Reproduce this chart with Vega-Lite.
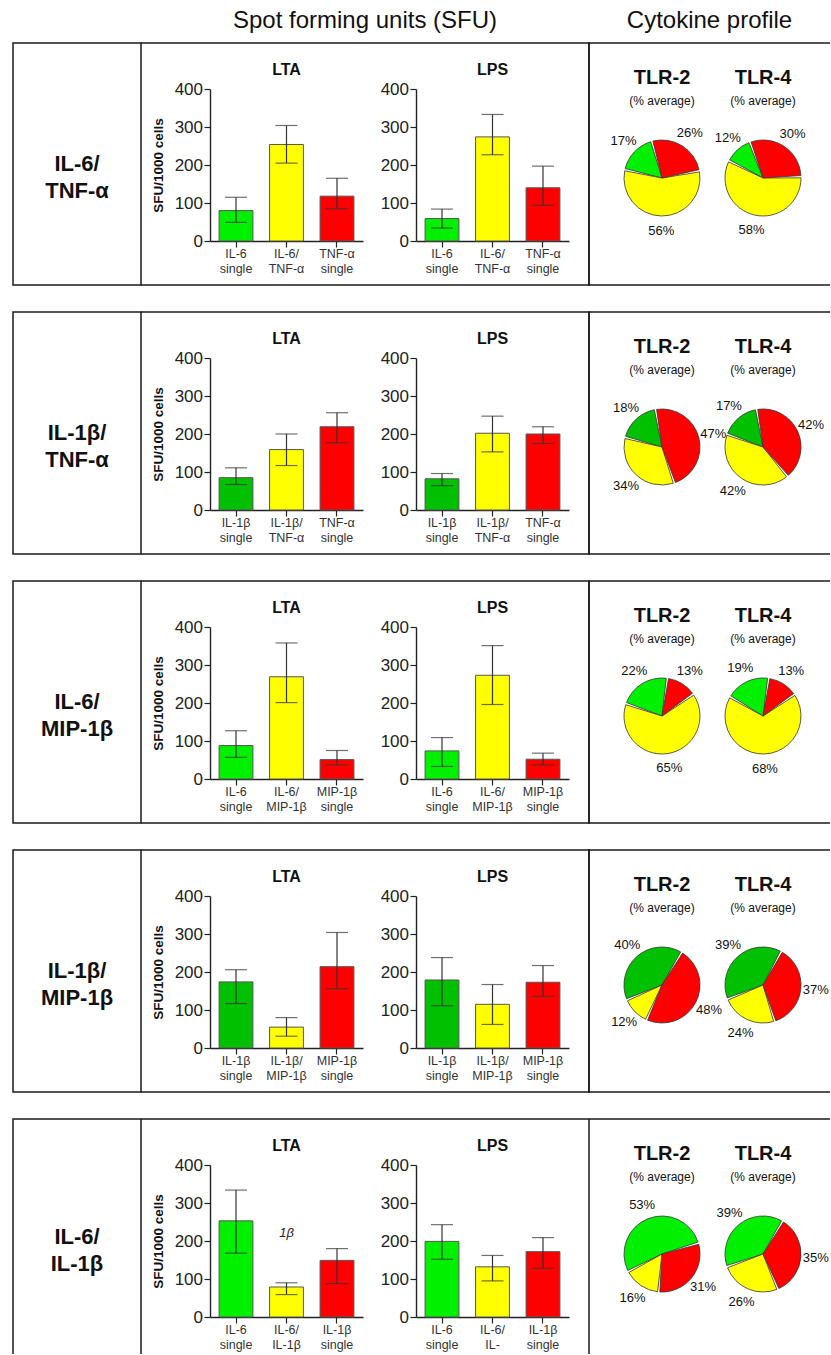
{
  "$schema": "https://vega.github.io/schema/vega-lite/v6.json",
  "background": "white",
  "padding": {"left": 12, "top": 0, "right": 0, "bottom": 0},
  "config": {
    "view": {"stroke": null},
    "font": "Liberation Sans",
    "axis": {"grid": false, "domainColor": "#222", "domainWidth": 1.4, "tickColor": "#222", "tickWidth": 1.2, "tickSize": 6, "labelColor": "#222", "labelFont": "Liberation Sans", "titleFont": "Liberation Sans", "titleColor": "#111"},
    "title": {"font": "Liberation Sans", "color": "#111"}
  },
  "datasets": {
    "rows": [
      {"row": 1, "pair": "IL-6/\nTNF-α"},
      {"row": 2, "pair": "IL-1β/\nTNF-α"},
      {"row": 3, "pair": "IL-6/\nMIP-1β"},
      {"row": 4, "pair": "IL-1β/\nMIP-1β"},
      {"row": 5, "pair": "IL-6/\nIL-1β"}
    ],
    "bars": [
      {"row": 1, "stim": "LTA", "label": "IL-6 single", "series": "single A (IL-6)", "mean": 80, "lo": 49, "hi": 115},
      {"row": 1, "stim": "LTA", "label": "IL-6/ TNF-α", "series": "double", "mean": 254, "lo": 205, "hi": 304},
      {"row": 1, "stim": "LTA", "label": "TNF-α single", "series": "single B", "mean": 118, "lo": 85, "hi": 165},
      {"row": 1, "stim": "LPS", "label": "IL-6 single", "series": "single A (IL-6)", "mean": 59, "lo": 34, "hi": 84},
      {"row": 1, "stim": "LPS", "label": "IL-6/ TNF-α", "series": "double", "mean": 274, "lo": 227, "hi": 333},
      {"row": 1, "stim": "LPS", "label": "TNF-α single", "series": "single B", "mean": 140, "lo": 94, "hi": 197},
      {"row": 2, "stim": "LTA", "label": "IL-1β single", "series": "single A (IL-1β)", "mean": 85, "lo": 67, "hi": 111},
      {"row": 2, "stim": "LTA", "label": "IL-1β/ TNF-α", "series": "double", "mean": 159, "lo": 117, "hi": 200},
      {"row": 2, "stim": "LTA", "label": "TNF-α single", "series": "single B", "mean": 219, "lo": 177, "hi": 256},
      {"row": 2, "stim": "LPS", "label": "IL-1β single", "series": "single A (IL-1β)", "mean": 82, "lo": 64, "hi": 96},
      {"row": 2, "stim": "LPS", "label": "IL-1β/ TNF-α", "series": "double", "mean": 202, "lo": 153, "hi": 247},
      {"row": 2, "stim": "LPS", "label": "TNF-α single", "series": "single B", "mean": 200, "lo": 175, "hi": 219},
      {"row": 3, "stim": "LTA", "label": "IL-6 single", "series": "single A (IL-6)", "mean": 88, "lo": 57, "hi": 127},
      {"row": 3, "stim": "LTA", "label": "IL-6/ MIP-1β", "series": "double", "mean": 269, "lo": 201, "hi": 358},
      {"row": 3, "stim": "LTA", "label": "MIP-1β single", "series": "single B", "mean": 51, "lo": 37, "hi": 75},
      {"row": 3, "stim": "LPS", "label": "IL-6 single", "series": "single A (IL-6)", "mean": 74, "lo": 33, "hi": 109},
      {"row": 3, "stim": "LPS", "label": "IL-6/ MIP-1β", "series": "double", "mean": 273, "lo": 196, "hi": 351},
      {"row": 3, "stim": "LPS", "label": "MIP-1β single", "series": "single B", "mean": 52, "lo": 37, "hi": 68},
      {"row": 4, "stim": "LTA", "label": "IL-1β single", "series": "single A (IL-1β)", "mean": 174, "lo": 117, "hi": 206},
      {"row": 4, "stim": "LTA", "label": "IL-1β/ MIP-1β", "series": "double", "mean": 55, "lo": 31, "hi": 80},
      {"row": 4, "stim": "LTA", "label": "MIP-1β single", "series": "single B", "mean": 214, "lo": 156, "hi": 304},
      {"row": 4, "stim": "LPS", "label": "IL-1β single", "series": "single A (IL-1β)", "mean": 179, "lo": 111, "hi": 238},
      {"row": 4, "stim": "LPS", "label": "IL-1β/ MIP-1β", "series": "double", "mean": 115, "lo": 62, "hi": 167},
      {"row": 4, "stim": "LPS", "label": "MIP-1β single", "series": "single B", "mean": 173, "lo": 136, "hi": 217},
      {"row": 5, "stim": "LTA", "label": "IL-6 single", "series": "single A (IL-6)", "mean": 253, "lo": 168, "hi": 334},
      {"row": 5, "stim": "LTA", "label": "IL-6/ IL-1β", "series": "double", "mean": 79, "lo": 59, "hi": 90},
      {"row": 5, "stim": "LTA", "label": "IL-1β single", "series": "single B", "mean": 149, "lo": 88, "hi": 180},
      {"row": 5, "stim": "LPS", "label": "IL-6 single", "series": "single A (IL-6)", "mean": 199, "lo": 152, "hi": 243},
      {"row": 5, "stim": "LPS", "label": "IL-6/ IL-", "series": "double", "mean": 132, "lo": 95, "hi": 162},
      {"row": 5, "stim": "LPS", "label": "IL-1β single", "series": "single B", "mean": 172, "lo": 128, "hi": 209}
    ],
    "pies": [
      {"row": 1, "tlr": "TLR-2", "series": "single A (IL-6)", "share": 0.17},
      {"row": 1, "tlr": "TLR-2", "series": "double", "share": 0.56},
      {"row": 1, "tlr": "TLR-2", "series": "single B", "share": 0.26},
      {"row": 1, "tlr": "TLR-4", "series": "single A (IL-6)", "share": 0.12},
      {"row": 1, "tlr": "TLR-4", "series": "double", "share": 0.58},
      {"row": 1, "tlr": "TLR-4", "series": "single B", "share": 0.30},
      {"row": 2, "tlr": "TLR-2", "series": "single A (IL-1β)", "share": 0.18},
      {"row": 2, "tlr": "TLR-2", "series": "double", "share": 0.34},
      {"row": 2, "tlr": "TLR-2", "series": "single B", "share": 0.47},
      {"row": 2, "tlr": "TLR-4", "series": "single A (IL-1β)", "share": 0.17},
      {"row": 2, "tlr": "TLR-4", "series": "double", "share": 0.42},
      {"row": 2, "tlr": "TLR-4", "series": "single B", "share": 0.42},
      {"row": 3, "tlr": "TLR-2", "series": "single A (IL-6)", "share": 0.22},
      {"row": 3, "tlr": "TLR-2", "series": "double", "share": 0.65},
      {"row": 3, "tlr": "TLR-2", "series": "single B", "share": 0.13},
      {"row": 3, "tlr": "TLR-4", "series": "single A (IL-6)", "share": 0.19},
      {"row": 3, "tlr": "TLR-4", "series": "double", "share": 0.68},
      {"row": 3, "tlr": "TLR-4", "series": "single B", "share": 0.13},
      {"row": 4, "tlr": "TLR-2", "series": "single A (IL-1β)", "share": 0.40},
      {"row": 4, "tlr": "TLR-2", "series": "double", "share": 0.12},
      {"row": 4, "tlr": "TLR-2", "series": "single B", "share": 0.48},
      {"row": 4, "tlr": "TLR-4", "series": "single A (IL-1β)", "share": 0.39},
      {"row": 4, "tlr": "TLR-4", "series": "double", "share": 0.24},
      {"row": 4, "tlr": "TLR-4", "series": "single B", "share": 0.37},
      {"row": 5, "tlr": "TLR-2", "series": "single A (IL-6)", "share": 0.53},
      {"row": 5, "tlr": "TLR-2", "series": "double", "share": 0.16},
      {"row": 5, "tlr": "TLR-2", "series": "single B", "share": 0.31},
      {"row": 5, "tlr": "TLR-4", "series": "single A (IL-6)", "share": 0.39},
      {"row": 5, "tlr": "TLR-4", "series": "double", "share": 0.26},
      {"row": 5, "tlr": "TLR-4", "series": "single B", "share": 0.35}
    ]
  },
  "spacing": 0,
  "resolve": {"scale": {"theta": "independent"}},
  "vconcat": [
    {
      "spacing": 0,
      "bounds": "flush",
      "hconcat": [
        {"width": 128, "height": 42, "data": {"values": []}, "mark": "text"},
        {"width": 448, "height": 42, "data": {"values": [{"h": "Spot forming units (SFU)"}]}, "mark": {"type": "text", "fontSize": 24, "color": "#111"}, "encoding": {"text": {"field": "h", "type": "nominal"}}},
        {"width": 241, "height": 42, "data": {"values": [{"h": "Cytokine profile"}]}, "mark": {"type": "text", "fontSize": 24, "color": "#111"}, "encoding": {"text": {"field": "h", "type": "nominal"}}}
      ]
    },
    {
      "spacing": 25,
      "resolve": {"scale": {"theta": "independent"}},
      "vconcat": [
        {
          "spacing": 0, "bounds": "flush", "resolve": {"scale": {"theta": "independent"}},
          "hconcat": [
            {"width": 128, "height": 242, "view": {"stroke": "#1a1a1a", "strokeWidth": 1.5}, "data": {"name": "rows"}, "transform": [{"filter": "datum.row === 1"}], "mark": {"type": "text", "fontSize": 22, "fontWeight": "bold", "lineBreak": "\n", "lineHeight": 27, "color": "#111"}, "encoding": {"text": {"field": "pair", "type": "nominal"}}},
            {
              "width": 206, "height": 242, "view": {"stroke": "#1a1a1a", "strokeWidth": 1.5, "strokeDash": [206, 242]},
              "title": {"text": "LTA", "frame": "group", "anchor": "middle", "dx": 42.5, "offset": -35, "fontSize": 16, "fontWeight": "bold"},
              "data": {"name": "bars"}, "transform": [{"filter": "datum.row === 1 && datum.stim === 'LTA'"}],
              "encoding": {"x": {"field": "label", "type": "nominal", "sort": null, "title": null, "scale": {"range": [69, 222], "paddingInner": 0.33, "paddingOuter": 0.18}, "axis": {"offset": -44, "labelExpr": "split(datum.label, ' ')", "labelAngle": 0, "labelFontSize": 12.5, "labelLineHeight": 14.5, "labelPadding": 0.5, "labelOverlap": false, "labelColor": "#333"}}},
              "layer": [
                {"mark": {"type": "bar", "stroke": "#555", "strokeWidth": 1}, "encoding": {"y": {"field": "mean", "type": "quantitative", "title": "SFU/1000 cells", "scale": {"domain": [0, 400], "range": [198, 46], "nice": false}, "axis": {"offset": -69, "values": [0, 100, 200, 300, 400], "labelFontSize": 17, "labelPadding": 1.5, "titleFontSize": 13.5, "titleFontWeight": "bold", "titlePadding": 9}}, "color": {"field": "series", "type": "nominal", "legend": null, "scale": {"domain": ["single A (IL-6)", "single A (IL-1β)", "double", "single B"], "range": ["#00F000", "#00C000", "#FFFF00", "#FF0000"]}}}},
                {"mark": {"type": "rule", "color": "#333", "strokeWidth": 1.2}, "encoding": {"y": {"field": "lo", "type": "quantitative", "title": "SFU/1000 cells"}, "y2": {"field": "hi"}}},
                {"mark": {"type": "tick", "color": "#333", "size": 22, "thickness": 1.2}, "encoding": {"y": {"field": "lo", "type": "quantitative", "title": "SFU/1000 cells"}}},
                {"mark": {"type": "tick", "color": "#333", "size": 22, "thickness": 1.2}, "encoding": {"y": {"field": "hi", "type": "quantitative", "title": "SFU/1000 cells"}}}
              ]
            },
            {
              "width": 242, "height": 242, "view": {"stroke": "#1a1a1a", "strokeWidth": 1.5, "strokeDash": [726, 242]},
              "title": {"text": "LPS", "frame": "group", "anchor": "middle", "dx": 24.5, "offset": -35, "fontSize": 16, "fontWeight": "bold"},
              "data": {"name": "bars"}, "transform": [{"filter": "datum.row === 1 && datum.stim === 'LPS'"}],
              "encoding": {"x": {"field": "label", "type": "nominal", "sort": null, "title": null, "scale": {"range": [69, 222], "paddingInner": 0.33, "paddingOuter": 0.18}, "axis": {"offset": -44, "labelExpr": "split(datum.label, ' ')", "labelAngle": 0, "labelFontSize": 12.5, "labelLineHeight": 14.5, "labelPadding": 0.5, "labelOverlap": false, "labelColor": "#333"}}},
              "layer": [
                {"mark": {"type": "bar", "stroke": "#555", "strokeWidth": 1}, "encoding": {"y": {"field": "mean", "type": "quantitative", "title": null, "scale": {"domain": [0, 400], "range": [198, 46], "nice": false}, "axis": {"offset": -69, "values": [0, 100, 200, 300, 400], "labelFontSize": 17, "labelPadding": 1.5}}, "color": {"field": "series", "type": "nominal", "legend": null}}},
                {"mark": {"type": "rule", "color": "#333", "strokeWidth": 1.2}, "encoding": {"y": {"field": "lo", "type": "quantitative", "title": null}, "y2": {"field": "hi"}}},
                {"mark": {"type": "tick", "color": "#333", "size": 22, "thickness": 1.2}, "encoding": {"y": {"field": "lo", "type": "quantitative", "title": null}}},
                {"mark": {"type": "tick", "color": "#333", "size": 22, "thickness": 1.2}, "encoding": {"y": {"field": "hi", "type": "quantitative", "title": null}}}
              ]
            },
            {
              "width": 241, "height": 242, "view": {"stroke": "#1a1a1a", "strokeWidth": 1.5, "strokeDash": [241, 242, 483]},
              "resolve": {"scale": {"theta": "independent"}},
              "layer": [
                {
                  "data": {"name": "pies"}, "transform": [{"filter": "datum.row === 1 && datum.tlr === 'TLR-2'"}],
                  "encoding": {
                    "x": {"field": "tlr", "type": "nominal", "axis": null, "scale": {"type": "point", "domain": ["TLR-2", "TLR-4"], "range": [73, 174], "padding": 0}},
                    "y": {"datum": "pie", "type": "nominal", "axis": null, "scale": {"type": "point", "domain": ["title", "pie"], "range": [35, 135], "padding": 0}},
                    "theta": {"field": "share", "type": "quantitative", "stack": true, "scale": {"range": [1.379, 7.662], "nice": false, "zero": true}},
                    "order": {"field": "series", "sort": "ascending"}
                  },
                  "layer": [
                    {"mark": {"type": "arc", "outerRadius": 38, "padAngle": 0.06, "stroke": "#333", "strokeWidth": 0.8}, "encoding": {"color": {"field": "series", "type": "nominal", "legend": null}}},
                    {"mark": {"type": "text", "radius": 53, "fontSize": 13, "color": "#111"}, "encoding": {"text": {"field": "share", "type": "quantitative", "format": ".0%"}, "detail": {"field": "series"}}}
                  ]
                },
                {
                  "data": {"name": "pies"}, "transform": [{"filter": "datum.row === 1 && datum.tlr === 'TLR-4'"}],
                  "encoding": {
                    "x": {"field": "tlr", "type": "nominal", "axis": null},
                    "y": {"datum": "pie", "type": "nominal", "axis": null},
                    "theta": {"field": "share", "type": "quantitative", "stack": true, "scale": {"range": [1.536, 7.819], "nice": false, "zero": true}},
                    "order": {"field": "series", "sort": "ascending"}
                  },
                  "layer": [
                    {"mark": {"type": "arc", "outerRadius": 38, "padAngle": 0.06, "stroke": "#333", "strokeWidth": 0.8}, "encoding": {"color": {"field": "series", "type": "nominal", "legend": null}}},
                    {"mark": {"type": "text", "radius": 53, "fontSize": 13, "color": "#111"}, "encoding": {"text": {"field": "share", "type": "quantitative", "format": ".0%"}, "detail": {"field": "series"}}}
                  ]
                },
                {
                  "data": {"name": "pies"}, "transform": [{"filter": "datum.row === 1 && datum.series === 'double'"}],
                  "encoding": {"x": {"field": "tlr", "type": "nominal", "axis": null}, "y": {"datum": "title", "type": "nominal", "axis": null}},
                  "layer": [
                    {"mark": {"type": "text", "fontSize": 20, "fontWeight": "bold", "color": "#111"}, "encoding": {"text": {"field": "tlr", "type": "nominal"}}},
                    {"mark": {"type": "text", "fontSize": 12, "dy": 23, "color": "#111", "text": "(% average)"}}
                  ]
                }
              ]
            }
          ]
        },
        {
          "spacing": 0, "bounds": "flush", "resolve": {"scale": {"theta": "independent"}},
          "hconcat": [
            {"width": 128, "height": 242, "view": {"stroke": "#1a1a1a", "strokeWidth": 1.5}, "data": {"name": "rows"}, "transform": [{"filter": "datum.row === 2"}], "mark": {"type": "text", "fontSize": 22, "fontWeight": "bold", "lineBreak": "\n", "lineHeight": 27, "color": "#111"}, "encoding": {"text": {"field": "pair", "type": "nominal"}}},
            {
              "width": 206, "height": 242, "view": {"stroke": "#1a1a1a", "strokeWidth": 1.5, "strokeDash": [206, 242]},
              "title": {"text": "LTA", "frame": "group", "anchor": "middle", "dx": 42.5, "offset": -35, "fontSize": 16, "fontWeight": "bold"},
              "data": {"name": "bars"}, "transform": [{"filter": "datum.row === 2 && datum.stim === 'LTA'"}],
              "encoding": {"x": {"field": "label", "type": "nominal", "sort": null, "title": null, "scale": {"range": [69, 222], "paddingInner": 0.33, "paddingOuter": 0.18}, "axis": {"offset": -44, "labelExpr": "split(datum.label, ' ')", "labelAngle": 0, "labelFontSize": 12.5, "labelLineHeight": 14.5, "labelPadding": 0.5, "labelOverlap": false, "labelColor": "#333"}}},
              "layer": [
                {"mark": {"type": "bar", "stroke": "#555", "strokeWidth": 1}, "encoding": {"y": {"field": "mean", "type": "quantitative", "title": "SFU/1000 cells", "scale": {"domain": [0, 400], "range": [198, 46], "nice": false}, "axis": {"offset": -69, "values": [0, 100, 200, 300, 400], "labelFontSize": 17, "labelPadding": 1.5, "titleFontSize": 13.5, "titleFontWeight": "bold", "titlePadding": 9}}, "color": {"field": "series", "type": "nominal", "legend": null}}},
                {"mark": {"type": "rule", "color": "#333", "strokeWidth": 1.2}, "encoding": {"y": {"field": "lo", "type": "quantitative", "title": "SFU/1000 cells"}, "y2": {"field": "hi"}}},
                {"mark": {"type": "tick", "color": "#333", "size": 22, "thickness": 1.2}, "encoding": {"y": {"field": "lo", "type": "quantitative", "title": "SFU/1000 cells"}}},
                {"mark": {"type": "tick", "color": "#333", "size": 22, "thickness": 1.2}, "encoding": {"y": {"field": "hi", "type": "quantitative", "title": "SFU/1000 cells"}}}
              ]
            },
            {
              "width": 242, "height": 242, "view": {"stroke": "#1a1a1a", "strokeWidth": 1.5, "strokeDash": [726, 242]},
              "title": {"text": "LPS", "frame": "group", "anchor": "middle", "dx": 24.5, "offset": -35, "fontSize": 16, "fontWeight": "bold"},
              "data": {"name": "bars"}, "transform": [{"filter": "datum.row === 2 && datum.stim === 'LPS'"}],
              "encoding": {"x": {"field": "label", "type": "nominal", "sort": null, "title": null, "scale": {"range": [69, 222], "paddingInner": 0.33, "paddingOuter": 0.18}, "axis": {"offset": -44, "labelExpr": "split(datum.label, ' ')", "labelAngle": 0, "labelFontSize": 12.5, "labelLineHeight": 14.5, "labelPadding": 0.5, "labelOverlap": false, "labelColor": "#333"}}},
              "layer": [
                {"mark": {"type": "bar", "stroke": "#555", "strokeWidth": 1}, "encoding": {"y": {"field": "mean", "type": "quantitative", "title": null, "scale": {"domain": [0, 400], "range": [198, 46], "nice": false}, "axis": {"offset": -69, "values": [0, 100, 200, 300, 400], "labelFontSize": 17, "labelPadding": 1.5}}, "color": {"field": "series", "type": "nominal", "legend": null}}},
                {"mark": {"type": "rule", "color": "#333", "strokeWidth": 1.2}, "encoding": {"y": {"field": "lo", "type": "quantitative", "title": null}, "y2": {"field": "hi"}}},
                {"mark": {"type": "tick", "color": "#333", "size": 22, "thickness": 1.2}, "encoding": {"y": {"field": "lo", "type": "quantitative", "title": null}}},
                {"mark": {"type": "tick", "color": "#333", "size": 22, "thickness": 1.2}, "encoding": {"y": {"field": "hi", "type": "quantitative", "title": null}}}
              ]
            },
            {
              "width": 241, "height": 242, "view": {"stroke": "#1a1a1a", "strokeWidth": 1.5, "strokeDash": [241, 242, 483]},
              "resolve": {"scale": {"theta": "independent"}},
              "layer": [
                {
                  "data": {"name": "pies"}, "transform": [{"filter": "datum.row === 2 && datum.tlr === 'TLR-2'"}],
                  "encoding": {
                    "x": {"field": "tlr", "type": "nominal", "axis": null, "scale": {"type": "point", "domain": ["TLR-2", "TLR-4"], "range": [73, 174], "padding": 0}},
                    "y": {"datum": "pie", "type": "nominal", "axis": null, "scale": {"type": "point", "domain": ["title", "pie"], "range": [35, 135], "padding": 0}},
                    "theta": {"field": "share", "type": "quantitative", "stack": true, "scale": {"range": [2.81, 9.093], "nice": false, "zero": true}},
                    "order": {"field": "series", "sort": "ascending"}
                  },
                  "layer": [
                    {"mark": {"type": "arc", "outerRadius": 38, "padAngle": 0.06, "stroke": "#333", "strokeWidth": 0.8}, "encoding": {"color": {"field": "series", "type": "nominal", "legend": null}}},
                    {"mark": {"type": "text", "radius": 53, "fontSize": 13, "color": "#111"}, "encoding": {"text": {"field": "share", "type": "quantitative", "format": ".0%"}, "detail": {"field": "series"}}}
                  ]
                },
                {
                  "data": {"name": "pies"}, "transform": [{"filter": "datum.row === 2 && datum.tlr === 'TLR-4'"}],
                  "encoding": {
                    "x": {"field": "tlr", "type": "nominal", "axis": null},
                    "y": {"datum": "pie", "type": "nominal", "axis": null},
                    "theta": {"field": "share", "type": "quantitative", "stack": true, "scale": {"range": [2.443, 8.727], "nice": false, "zero": true}},
                    "order": {"field": "series", "sort": "ascending"}
                  },
                  "layer": [
                    {"mark": {"type": "arc", "outerRadius": 38, "padAngle": 0.06, "stroke": "#333", "strokeWidth": 0.8}, "encoding": {"color": {"field": "series", "type": "nominal", "legend": null}}},
                    {"mark": {"type": "text", "radius": 53, "fontSize": 13, "color": "#111"}, "encoding": {"text": {"field": "share", "type": "quantitative", "format": ".0%"}, "detail": {"field": "series"}}}
                  ]
                },
                {
                  "data": {"name": "pies"}, "transform": [{"filter": "datum.row === 2 && datum.series === 'double'"}],
                  "encoding": {"x": {"field": "tlr", "type": "nominal", "axis": null}, "y": {"datum": "title", "type": "nominal", "axis": null}},
                  "layer": [
                    {"mark": {"type": "text", "fontSize": 20, "fontWeight": "bold", "color": "#111"}, "encoding": {"text": {"field": "tlr", "type": "nominal"}}},
                    {"mark": {"type": "text", "fontSize": 12, "dy": 23, "color": "#111", "text": "(% average)"}}
                  ]
                }
              ]
            }
          ]
        },
        {
          "spacing": 0, "bounds": "flush", "resolve": {"scale": {"theta": "independent"}},
          "hconcat": [
            {"width": 128, "height": 242, "view": {"stroke": "#1a1a1a", "strokeWidth": 1.5}, "data": {"name": "rows"}, "transform": [{"filter": "datum.row === 3"}], "mark": {"type": "text", "fontSize": 22, "fontWeight": "bold", "lineBreak": "\n", "lineHeight": 27, "color": "#111"}, "encoding": {"text": {"field": "pair", "type": "nominal"}}},
            {
              "width": 206, "height": 242, "view": {"stroke": "#1a1a1a", "strokeWidth": 1.5, "strokeDash": [206, 242]},
              "title": {"text": "LTA", "frame": "group", "anchor": "middle", "dx": 42.5, "offset": -35, "fontSize": 16, "fontWeight": "bold"},
              "data": {"name": "bars"}, "transform": [{"filter": "datum.row === 3 && datum.stim === 'LTA'"}],
              "encoding": {"x": {"field": "label", "type": "nominal", "sort": null, "title": null, "scale": {"range": [69, 222], "paddingInner": 0.33, "paddingOuter": 0.18}, "axis": {"offset": -44, "labelExpr": "split(datum.label, ' ')", "labelAngle": 0, "labelFontSize": 12.5, "labelLineHeight": 14.5, "labelPadding": 0.5, "labelOverlap": false, "labelColor": "#333"}}},
              "layer": [
                {"mark": {"type": "bar", "stroke": "#555", "strokeWidth": 1}, "encoding": {"y": {"field": "mean", "type": "quantitative", "title": "SFU/1000 cells", "scale": {"domain": [0, 400], "range": [198, 46], "nice": false}, "axis": {"offset": -69, "values": [0, 100, 200, 300, 400], "labelFontSize": 17, "labelPadding": 1.5, "titleFontSize": 13.5, "titleFontWeight": "bold", "titlePadding": 9}}, "color": {"field": "series", "type": "nominal", "legend": null}}},
                {"mark": {"type": "rule", "color": "#333", "strokeWidth": 1.2}, "encoding": {"y": {"field": "lo", "type": "quantitative", "title": "SFU/1000 cells"}, "y2": {"field": "hi"}}},
                {"mark": {"type": "tick", "color": "#333", "size": 22, "thickness": 1.2}, "encoding": {"y": {"field": "lo", "type": "quantitative", "title": "SFU/1000 cells"}}},
                {"mark": {"type": "tick", "color": "#333", "size": 22, "thickness": 1.2}, "encoding": {"y": {"field": "hi", "type": "quantitative", "title": "SFU/1000 cells"}}}
              ]
            },
            {
              "width": 242, "height": 242, "view": {"stroke": "#1a1a1a", "strokeWidth": 1.5, "strokeDash": [726, 242]},
              "title": {"text": "LPS", "frame": "group", "anchor": "middle", "dx": 24.5, "offset": -35, "fontSize": 16, "fontWeight": "bold"},
              "data": {"name": "bars"}, "transform": [{"filter": "datum.row === 3 && datum.stim === 'LPS'"}],
              "encoding": {"x": {"field": "label", "type": "nominal", "sort": null, "title": null, "scale": {"range": [69, 222], "paddingInner": 0.33, "paddingOuter": 0.18}, "axis": {"offset": -44, "labelExpr": "split(datum.label, ' ')", "labelAngle": 0, "labelFontSize": 12.5, "labelLineHeight": 14.5, "labelPadding": 0.5, "labelOverlap": false, "labelColor": "#333"}}},
              "layer": [
                {"mark": {"type": "bar", "stroke": "#555", "strokeWidth": 1}, "encoding": {"y": {"field": "mean", "type": "quantitative", "title": null, "scale": {"domain": [0, 400], "range": [198, 46], "nice": false}, "axis": {"offset": -69, "values": [0, 100, 200, 300, 400], "labelFontSize": 17, "labelPadding": 1.5}}, "color": {"field": "series", "type": "nominal", "legend": null}}},
                {"mark": {"type": "rule", "color": "#333", "strokeWidth": 1.2}, "encoding": {"y": {"field": "lo", "type": "quantitative", "title": null}, "y2": {"field": "hi"}}},
                {"mark": {"type": "tick", "color": "#333", "size": 22, "thickness": 1.2}, "encoding": {"y": {"field": "lo", "type": "quantitative", "title": null}}},
                {"mark": {"type": "tick", "color": "#333", "size": 22, "thickness": 1.2}, "encoding": {"y": {"field": "hi", "type": "quantitative", "title": null}}}
              ]
            },
            {
              "width": 241, "height": 242, "view": {"stroke": "#1a1a1a", "strokeWidth": 1.5, "strokeDash": [241, 242, 483]},
              "resolve": {"scale": {"theta": "independent"}},
              "layer": [
                {
                  "data": {"name": "pies"}, "transform": [{"filter": "datum.row === 3 && datum.tlr === 'TLR-2'"}],
                  "encoding": {
                    "x": {"field": "tlr", "type": "nominal", "axis": null, "scale": {"type": "point", "domain": ["TLR-2", "TLR-4"], "range": [73, 174], "padding": 0}},
                    "y": {"datum": "pie", "type": "nominal", "axis": null, "scale": {"type": "point", "domain": ["title", "pie"], "range": [35, 135], "padding": 0}},
                    "theta": {"field": "share", "type": "quantitative", "stack": true, "scale": {"range": [0.96, 7.243], "nice": false, "zero": true}},
                    "order": {"field": "series", "sort": "ascending"}
                  },
                  "layer": [
                    {"mark": {"type": "arc", "outerRadius": 38, "padAngle": 0.06, "stroke": "#333", "strokeWidth": 0.8}, "encoding": {"color": {"field": "series", "type": "nominal", "legend": null}}},
                    {"mark": {"type": "text", "radius": 53, "fontSize": 13, "color": "#111"}, "encoding": {"text": {"field": "share", "type": "quantitative", "format": ".0%"}, "detail": {"field": "series"}}}
                  ]
                },
                {
                  "data": {"name": "pies"}, "transform": [{"filter": "datum.row === 3 && datum.tlr === 'TLR-4'"}],
                  "encoding": {
                    "x": {"field": "tlr", "type": "nominal", "axis": null},
                    "y": {"datum": "pie", "type": "nominal", "axis": null},
                    "theta": {"field": "share", "type": "quantitative", "stack": true, "scale": {"range": [0.969, 7.252], "nice": false, "zero": true}},
                    "order": {"field": "series", "sort": "ascending"}
                  },
                  "layer": [
                    {"mark": {"type": "arc", "outerRadius": 38, "padAngle": 0.06, "stroke": "#333", "strokeWidth": 0.8}, "encoding": {"color": {"field": "series", "type": "nominal", "legend": null}}},
                    {"mark": {"type": "text", "radius": 53, "fontSize": 13, "color": "#111"}, "encoding": {"text": {"field": "share", "type": "quantitative", "format": ".0%"}, "detail": {"field": "series"}}}
                  ]
                },
                {
                  "data": {"name": "pies"}, "transform": [{"filter": "datum.row === 3 && datum.series === 'double'"}],
                  "encoding": {"x": {"field": "tlr", "type": "nominal", "axis": null}, "y": {"datum": "title", "type": "nominal", "axis": null}},
                  "layer": [
                    {"mark": {"type": "text", "fontSize": 20, "fontWeight": "bold", "color": "#111"}, "encoding": {"text": {"field": "tlr", "type": "nominal"}}},
                    {"mark": {"type": "text", "fontSize": 12, "dy": 23, "color": "#111", "text": "(% average)"}}
                  ]
                }
              ]
            }
          ]
        },
        {
          "spacing": 0, "bounds": "flush", "resolve": {"scale": {"theta": "independent"}},
          "hconcat": [
            {"width": 128, "height": 242, "view": {"stroke": "#1a1a1a", "strokeWidth": 1.5}, "data": {"name": "rows"}, "transform": [{"filter": "datum.row === 4"}], "mark": {"type": "text", "fontSize": 22, "fontWeight": "bold", "lineBreak": "\n", "lineHeight": 27, "color": "#111"}, "encoding": {"text": {"field": "pair", "type": "nominal"}}},
            {
              "width": 206, "height": 242, "view": {"stroke": "#1a1a1a", "strokeWidth": 1.5, "strokeDash": [206, 242]},
              "title": {"text": "LTA", "frame": "group", "anchor": "middle", "dx": 42.5, "offset": -35, "fontSize": 16, "fontWeight": "bold"},
              "data": {"name": "bars"}, "transform": [{"filter": "datum.row === 4 && datum.stim === 'LTA'"}],
              "encoding": {"x": {"field": "label", "type": "nominal", "sort": null, "title": null, "scale": {"range": [69, 222], "paddingInner": 0.33, "paddingOuter": 0.18}, "axis": {"offset": -44, "labelExpr": "split(datum.label, ' ')", "labelAngle": 0, "labelFontSize": 12.5, "labelLineHeight": 14.5, "labelPadding": 0.5, "labelOverlap": false, "labelColor": "#333"}}},
              "layer": [
                {"mark": {"type": "bar", "stroke": "#555", "strokeWidth": 1}, "encoding": {"y": {"field": "mean", "type": "quantitative", "title": "SFU/1000 cells", "scale": {"domain": [0, 400], "range": [198, 46], "nice": false}, "axis": {"offset": -69, "values": [0, 100, 200, 300, 400], "labelFontSize": 17, "labelPadding": 1.5, "titleFontSize": 13.5, "titleFontWeight": "bold", "titlePadding": 9}}, "color": {"field": "series", "type": "nominal", "legend": null}}},
                {"mark": {"type": "rule", "color": "#333", "strokeWidth": 1.2}, "encoding": {"y": {"field": "lo", "type": "quantitative", "title": "SFU/1000 cells"}, "y2": {"field": "hi"}}},
                {"mark": {"type": "tick", "color": "#333", "size": 22, "thickness": 1.2}, "encoding": {"y": {"field": "lo", "type": "quantitative", "title": "SFU/1000 cells"}}},
                {"mark": {"type": "tick", "color": "#333", "size": 22, "thickness": 1.2}, "encoding": {"y": {"field": "hi", "type": "quantitative", "title": "SFU/1000 cells"}}}
              ]
            },
            {
              "width": 242, "height": 242, "view": {"stroke": "#1a1a1a", "strokeWidth": 1.5, "strokeDash": [726, 242]},
              "title": {"text": "LPS", "frame": "group", "anchor": "middle", "dx": 24.5, "offset": -35, "fontSize": 16, "fontWeight": "bold"},
              "data": {"name": "bars"}, "transform": [{"filter": "datum.row === 4 && datum.stim === 'LPS'"}],
              "encoding": {"x": {"field": "label", "type": "nominal", "sort": null, "title": null, "scale": {"range": [69, 222], "paddingInner": 0.33, "paddingOuter": 0.18}, "axis": {"offset": -44, "labelExpr": "split(datum.label, ' ')", "labelAngle": 0, "labelFontSize": 12.5, "labelLineHeight": 14.5, "labelPadding": 0.5, "labelOverlap": false, "labelColor": "#333"}}},
              "layer": [
                {"mark": {"type": "bar", "stroke": "#555", "strokeWidth": 1}, "encoding": {"y": {"field": "mean", "type": "quantitative", "title": null, "scale": {"domain": [0, 400], "range": [198, 46], "nice": false}, "axis": {"offset": -69, "values": [0, 100, 200, 300, 400], "labelFontSize": 17, "labelPadding": 1.5}}, "color": {"field": "series", "type": "nominal", "legend": null}}},
                {"mark": {"type": "rule", "color": "#333", "strokeWidth": 1.2}, "encoding": {"y": {"field": "lo", "type": "quantitative", "title": null}, "y2": {"field": "hi"}}},
                {"mark": {"type": "tick", "color": "#333", "size": 22, "thickness": 1.2}, "encoding": {"y": {"field": "lo", "type": "quantitative", "title": null}}},
                {"mark": {"type": "tick", "color": "#333", "size": 22, "thickness": 1.2}, "encoding": {"y": {"field": "hi", "type": "quantitative", "title": null}}}
              ]
            },
            {
              "width": 241, "height": 242, "view": {"stroke": "#1a1a1a", "strokeWidth": 1.5, "strokeDash": [241, 242, 483]},
              "resolve": {"scale": {"theta": "independent"}},
              "layer": [
                {
                  "data": {"name": "pies"}, "transform": [{"filter": "datum.row === 4 && datum.tlr === 'TLR-2'"}],
                  "encoding": {
                    "x": {"field": "tlr", "type": "nominal", "axis": null, "scale": {"type": "point", "domain": ["TLR-2", "TLR-4"], "range": [73, 174], "padding": 0}},
                    "y": {"datum": "pie", "type": "nominal", "axis": null, "scale": {"type": "point", "domain": ["title", "pie"], "range": [35, 135], "padding": 0}},
                    "theta": {"field": "share", "type": "quantitative", "stack": true, "scale": {"range": [3.56, 9.843], "nice": false, "zero": true}},
                    "order": {"field": "series", "sort": "ascending"}
                  },
                  "layer": [
                    {"mark": {"type": "arc", "outerRadius": 38, "padAngle": 0.06, "stroke": "#333", "strokeWidth": 0.8}, "encoding": {"color": {"field": "series", "type": "nominal", "legend": null}}},
                    {"mark": {"type": "text", "radius": 53, "fontSize": 13, "color": "#111"}, "encoding": {"text": {"field": "share", "type": "quantitative", "format": ".0%"}, "detail": {"field": "series"}}}
                  ]
                },
                {
                  "data": {"name": "pies"}, "transform": [{"filter": "datum.row === 4 && datum.tlr === 'TLR-4'"}],
                  "encoding": {
                    "x": {"field": "tlr", "type": "nominal", "axis": null},
                    "y": {"datum": "pie", "type": "nominal", "axis": null},
                    "theta": {"field": "share", "type": "quantitative", "stack": true, "scale": {"range": [2.827, 9.111], "nice": false, "zero": true}},
                    "order": {"field": "series", "sort": "ascending"}
                  },
                  "layer": [
                    {"mark": {"type": "arc", "outerRadius": 38, "padAngle": 0.06, "stroke": "#333", "strokeWidth": 0.8}, "encoding": {"color": {"field": "series", "type": "nominal", "legend": null}}},
                    {"mark": {"type": "text", "radius": 53, "fontSize": 13, "color": "#111"}, "encoding": {"text": {"field": "share", "type": "quantitative", "format": ".0%"}, "detail": {"field": "series"}}}
                  ]
                },
                {
                  "data": {"name": "pies"}, "transform": [{"filter": "datum.row === 4 && datum.series === 'double'"}],
                  "encoding": {"x": {"field": "tlr", "type": "nominal", "axis": null}, "y": {"datum": "title", "type": "nominal", "axis": null}},
                  "layer": [
                    {"mark": {"type": "text", "fontSize": 20, "fontWeight": "bold", "color": "#111"}, "encoding": {"text": {"field": "tlr", "type": "nominal"}}},
                    {"mark": {"type": "text", "fontSize": 12, "dy": 23, "color": "#111", "text": "(% average)"}}
                  ]
                }
              ]
            }
          ]
        },
        {
          "spacing": 0, "bounds": "flush", "resolve": {"scale": {"theta": "independent"}},
          "hconcat": [
            {"width": 128, "height": 235, "view": {"stroke": "#1a1a1a", "strokeWidth": 1.5, "strokeDash": [363, 128, 235]}, "data": {"name": "rows"}, "transform": [{"filter": "datum.row === 5"}], "mark": {"type": "text", "fontSize": 22, "fontWeight": "bold", "lineBreak": "\n", "lineHeight": 27, "color": "#111"}, "encoding": {"text": {"field": "pair", "type": "nominal"}}},
            {
              "width": 206, "height": 235, "view": {"stroke": "#1a1a1a", "strokeWidth": 1.5, "strokeDash": [206, 676]},
              "title": {"text": "LTA", "frame": "group", "anchor": "middle", "dx": 42.5, "offset": -35, "fontSize": 16, "fontWeight": "bold"},
              "data": {"name": "bars"}, "transform": [{"filter": "datum.row === 5 && datum.stim === 'LTA'"}],
              "encoding": {"x": {"field": "label", "type": "nominal", "sort": null, "title": null, "scale": {"range": [69, 222], "paddingInner": 0.33, "paddingOuter": 0.18}, "axis": {"offset": -37, "labelExpr": "split(datum.label, ' ')", "labelAngle": 0, "labelFontSize": 12.5, "labelLineHeight": 14.5, "labelPadding": 0.5, "labelOverlap": false, "labelColor": "#333"}}},
              "layer": [
                {"mark": {"type": "bar", "stroke": "#555", "strokeWidth": 1}, "encoding": {"y": {"field": "mean", "type": "quantitative", "title": "SFU/1000 cells", "scale": {"domain": [0, 400], "range": [198, 46], "nice": false}, "axis": {"offset": -69, "values": [0, 100, 200, 300, 400], "labelFontSize": 17, "labelPadding": 1.5, "titleFontSize": 13.5, "titleFontWeight": "bold", "titlePadding": 9}}, "color": {"field": "series", "type": "nominal", "legend": null}}},
                {"mark": {"type": "rule", "color": "#333", "strokeWidth": 1.2}, "encoding": {"y": {"field": "lo", "type": "quantitative", "title": "SFU/1000 cells"}, "y2": {"field": "hi"}}},
                {"mark": {"type": "tick", "color": "#333", "size": 22, "thickness": 1.2}, "encoding": {"y": {"field": "lo", "type": "quantitative", "title": "SFU/1000 cells"}}},
                {"mark": {"type": "tick", "color": "#333", "size": 22, "thickness": 1.2}, "encoding": {"y": {"field": "hi", "type": "quantitative", "title": "SFU/1000 cells"}}},
                {"transform": [{"filter": "datum.series === 'double'"}], "mark": {"type": "text", "text": "1β", "fontSize": 13, "fontStyle": "italic", "color": "#222"}, "encoding": {"y": {"datum": 221, "type": "quantitative"}}}
              ]
            },
            {
              "width": 242, "height": 235, "view": {"stroke": "#1a1a1a", "strokeWidth": 1.5, "strokeDash": [477, 477]},
              "title": {"text": "LPS", "frame": "group", "anchor": "middle", "dx": 24.5, "offset": -35, "fontSize": 16, "fontWeight": "bold"},
              "data": {"name": "bars"}, "transform": [{"filter": "datum.row === 5 && datum.stim === 'LPS'"}],
              "encoding": {"x": {"field": "label", "type": "nominal", "sort": null, "title": null, "scale": {"range": [69, 222], "paddingInner": 0.33, "paddingOuter": 0.18}, "axis": {"offset": -37, "labelExpr": "split(datum.label, ' ')", "labelAngle": 0, "labelFontSize": 12.5, "labelLineHeight": 14.5, "labelPadding": 0.5, "labelOverlap": false, "labelColor": "#333"}}},
              "layer": [
                {"mark": {"type": "bar", "stroke": "#555", "strokeWidth": 1}, "encoding": {"y": {"field": "mean", "type": "quantitative", "title": null, "scale": {"domain": [0, 400], "range": [198, 46], "nice": false}, "axis": {"offset": -69, "values": [0, 100, 200, 300, 400], "labelFontSize": 17, "labelPadding": 1.5}}, "color": {"field": "series", "type": "nominal", "legend": null}}},
                {"mark": {"type": "rule", "color": "#333", "strokeWidth": 1.2}, "encoding": {"y": {"field": "lo", "type": "quantitative", "title": null}, "y2": {"field": "hi"}}},
                {"mark": {"type": "tick", "color": "#333", "size": 22, "thickness": 1.2}, "encoding": {"y": {"field": "lo", "type": "quantitative", "title": null}}},
                {"mark": {"type": "tick", "color": "#333", "size": 22, "thickness": 1.2}, "encoding": {"y": {"field": "hi", "type": "quantitative", "title": null}}}
              ]
            },
            {
              "width": 241, "height": 235, "view": {"stroke": "#1a1a1a", "strokeWidth": 1.5, "strokeDash": [241, 711]},
              "resolve": {"scale": {"theta": "independent"}},
              "layer": [
                {
                  "data": {"name": "pies"}, "transform": [{"filter": "datum.row === 5 && datum.tlr === 'TLR-2'"}],
                  "encoding": {
                    "x": {"field": "tlr", "type": "nominal", "axis": null, "scale": {"type": "point", "domain": ["TLR-2", "TLR-4"], "range": [73, 174], "padding": 0}},
                    "y": {"datum": "pie", "type": "nominal", "axis": null, "scale": {"type": "point", "domain": ["title", "pie"], "range": [35, 135], "padding": 0}},
                    "theta": {"field": "share", "type": "quantitative", "stack": true, "scale": {"range": [3.229, 9.512], "nice": false, "zero": true}},
                    "order": {"field": "series", "sort": "ascending"}
                  },
                  "layer": [
                    {"mark": {"type": "arc", "outerRadius": 38, "padAngle": 0.06, "stroke": "#333", "strokeWidth": 0.8}, "encoding": {"color": {"field": "series", "type": "nominal", "legend": null}}},
                    {"mark": {"type": "text", "radius": 53, "fontSize": 13, "color": "#111"}, "encoding": {"text": {"field": "share", "type": "quantitative", "format": ".0%"}, "detail": {"field": "series"}}}
                  ]
                },
                {
                  "data": {"name": "pies"}, "transform": [{"filter": "datum.row === 5 && datum.tlr === 'TLR-4'"}],
                  "encoding": {
                    "x": {"field": "tlr", "type": "nominal", "axis": null},
                    "y": {"datum": "pie", "type": "nominal", "axis": null},
                    "theta": {"field": "share", "type": "quantitative", "stack": true, "scale": {"range": [2.74, 9.023], "nice": false, "zero": true}},
                    "order": {"field": "series", "sort": "ascending"}
                  },
                  "layer": [
                    {"mark": {"type": "arc", "outerRadius": 38, "padAngle": 0.06, "stroke": "#333", "strokeWidth": 0.8}, "encoding": {"color": {"field": "series", "type": "nominal", "legend": null}}},
                    {"mark": {"type": "text", "radius": 53, "fontSize": 13, "color": "#111"}, "encoding": {"text": {"field": "share", "type": "quantitative", "format": ".0%"}, "detail": {"field": "series"}}}
                  ]
                },
                {
                  "data": {"name": "pies"}, "transform": [{"filter": "datum.row === 5 && datum.series === 'double'"}],
                  "encoding": {"x": {"field": "tlr", "type": "nominal", "axis": null}, "y": {"datum": "title", "type": "nominal", "axis": null}},
                  "layer": [
                    {"mark": {"type": "text", "fontSize": 20, "fontWeight": "bold", "color": "#111"}, "encoding": {"text": {"field": "tlr", "type": "nominal"}}},
                    {"mark": {"type": "text", "fontSize": 12, "dy": 23, "color": "#111", "text": "(% average)"}}
                  ]
                }
              ]
            }
          ]
        }
      ]
    }
  ]
}
